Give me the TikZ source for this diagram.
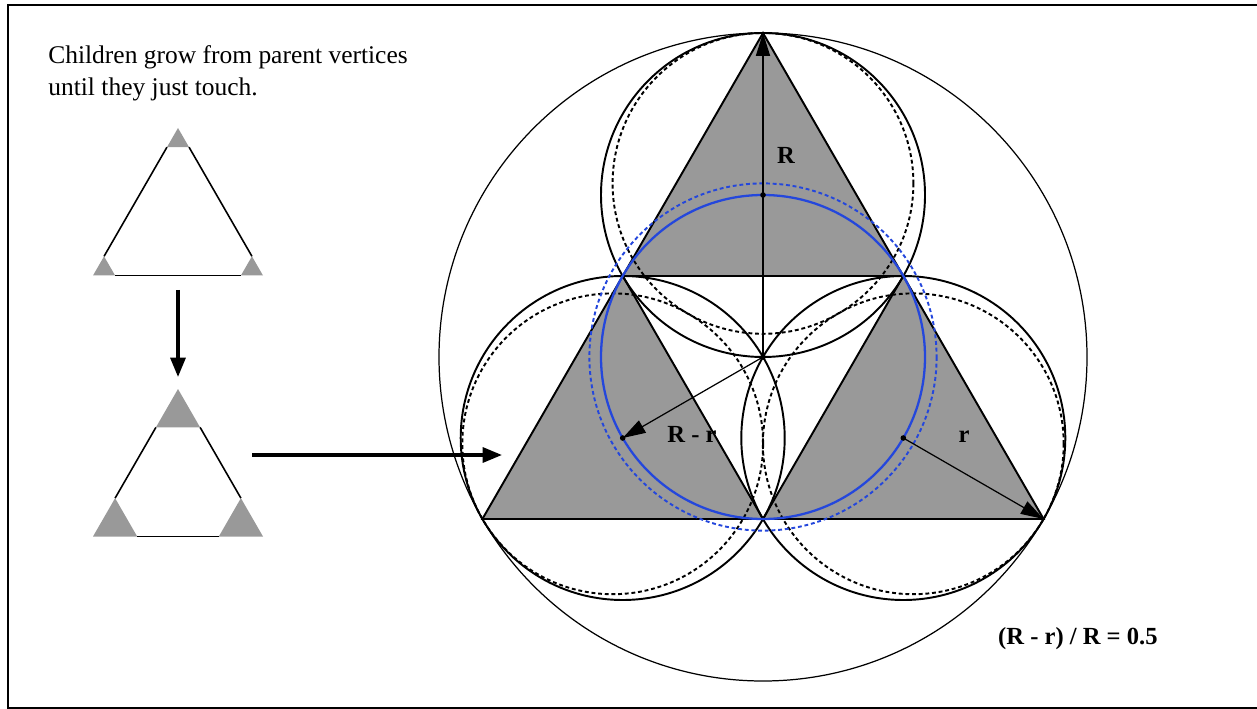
\documentclass[tikz,border=0pt]{standalone}
\usepackage{fontspec}
\setmainfont{Liberation Serif}
\usepackage{tikz}
\usetikzlibrary{arrows.meta,calc}
\definecolor{ChildGray}{HTML}{999999}
\definecolor{RingBlue}{HTML}{2447DC}

\begin{document}
\begin{tikzpicture}[x=0.02cm,y=-0.02cm,
  childtri/.style={fill=ChildGray,draw=black,line width=1.1pt},
  tipfill/.style={fill=ChildGray,draw=none},
  parent/.style={draw=black,line width=0.9pt},
  ring/.style={draw=black,line width=1.1pt},
  dashring/.style={draw=black,line width=1.1pt,dash pattern=on 2.2pt off 1.6pt},
  hull/.style={draw=black,line width=0.7pt},
  bluering/.style={draw=RingBlue,line width=1.3pt},
  bluedash/.style={draw=RingBlue,line width=1.1pt,dash pattern=on 2.2pt off 1.6pt},
  radarrow/.style={-{Triangle[length=13pt,width=8pt]},line width=0.7pt},
  growarrow/.style={-{Triangle[length=11pt,width=8.5pt]},line width=1.9pt},
  dot/.style={circle,fill=black,inner sep=0pt,minimum size=3.2pt},
  tag/.style={font=\fontsize{14}{16}\selectfont\bfseries,inner sep=0pt},
  note/.style={font=\fontsize{14.5}{18}\selectfont,inner sep=0pt,anchor=base west}
]
\useasboundingbox (0,0) rectangle (1257,709);
\draw[line width=1.7pt] (8,5) rectangle (1259,708);

% caption
\node[note] (cap1) at (48,64) {Children grow from parent vertices};
\node[note] (cap2) at (48,96) {until they just touch.};

% parent with small children
\coordinate (p1t) at (178,128);
\coordinate (p1l) at (93,275.5);
\coordinate (p1r) at (263,275.5);
\fill[tipfill] (p1t) -- ($(p1t)!0.13!(p1l)$) -- ($(p1t)!0.13!(p1r)$) -- cycle;
\fill[tipfill] (p1l) -- ($(p1l)!0.13!(p1t)$) -- ($(p1l)!0.13!(p1r)$) -- cycle;
\fill[tipfill] (p1r) -- ($(p1r)!0.13!(p1t)$) -- ($(p1r)!0.13!(p1l)$) -- cycle;
\draw[parent] ($(p1t)!0.13!(p1l)$) -- ($(p1l)!0.13!(p1t)$);
\draw[parent] ($(p1l)!0.13!(p1r)$) -- ($(p1r)!0.13!(p1l)$);
\draw[parent] ($(p1r)!0.13!(p1t)$) -- ($(p1t)!0.13!(p1r)$);

% parent with grown children
\coordinate (p2t) at (178,389);
\coordinate (p2l) at (93,536.5);
\coordinate (p2r) at (263,536.5);
\fill[tipfill] (p2t) -- ($(p2t)!0.26!(p2l)$) -- ($(p2t)!0.26!(p2r)$) -- cycle;
\fill[tipfill] (p2l) -- ($(p2l)!0.26!(p2t)$) -- ($(p2l)!0.26!(p2r)$) -- cycle;
\fill[tipfill] (p2r) -- ($(p2r)!0.26!(p2t)$) -- ($(p2r)!0.26!(p2l)$) -- cycle;
\draw[parent] ($(p2t)!0.26!(p2l)$) -- ($(p2l)!0.26!(p2t)$);
\draw[parent] ($(p2l)!0.26!(p2r)$) -- ($(p2r)!0.26!(p2l)$);
\draw[parent] ($(p2r)!0.26!(p2t)$) -- ($(p2t)!0.26!(p2r)$);

\coordinate (down0) at (178,290);
\coordinate (down1) at (178,377);
\coordinate (right0) at (252,455);
\coordinate (right1) at (502,455);
\draw[growarrow] (down0) -- (down1);
\draw[growarrow] (right0) -- (right1);

% children that just touch
\coordinate (O) at (763,357);
\coordinate (A) at (763,33);
\coordinate (BL) at (482.4,519);
\coordinate (BR) at (1043.6,519);
\coordinate (ML) at (622.7,276);
\coordinate (MR) at (903.3,276);
\coordinate (MB) at (763,519);
\coordinate (CT) at (763,195);
\coordinate (CL) at (622.7,438);
\coordinate (CR) at (903.3,438);
\coordinate (DT) at (763,183.4);
\coordinate (DL) at (612.7,443.8);
\coordinate (DR) at (913.3,443.8);

\draw[childtri] (A) -- (ML) -- (MR) -- cycle;
\draw[childtri] (ML) -- (BL) -- (MB) -- cycle;
\draw[childtri] (MR) -- (MB) -- (BR) -- cycle;

\draw[hull] (O) circle [radius=324];
\draw[ring] (CT) circle [radius=162];
\draw[ring] (CL) circle [radius=162];
\draw[ring] (CR) circle [radius=162];
\draw[dashring] (DT) circle [radius=150.4];
\draw[dashring] (DL) circle [radius=150.4];
\draw[dashring] (DR) circle [radius=150.4];
\draw[bluering] (O) circle [radius=162];
\draw[bluedash] (O) circle [radius=173.6];

\draw[radarrow] (O) -- (A);
\draw[radarrow] (O) -- (CL);
\draw[radarrow] (CR) -- (BR);
\node[dot] (oc) at (O) {};
\node[dot] (ct) at (CT) {};
\node[dot] (cl) at (CL) {};
\node[dot] (cr) at (CR) {};

\node[tag] (labR) at (786,155) {R};
\node[tag] (labRr) at (692,434) {R - r};
\node[tag] (labr) at (964,437) {r};
\node[tag,anchor=base east] (ratio) at (1158,644) {(R - r) / R = 0.5};
\end{tikzpicture}
\end{document}
